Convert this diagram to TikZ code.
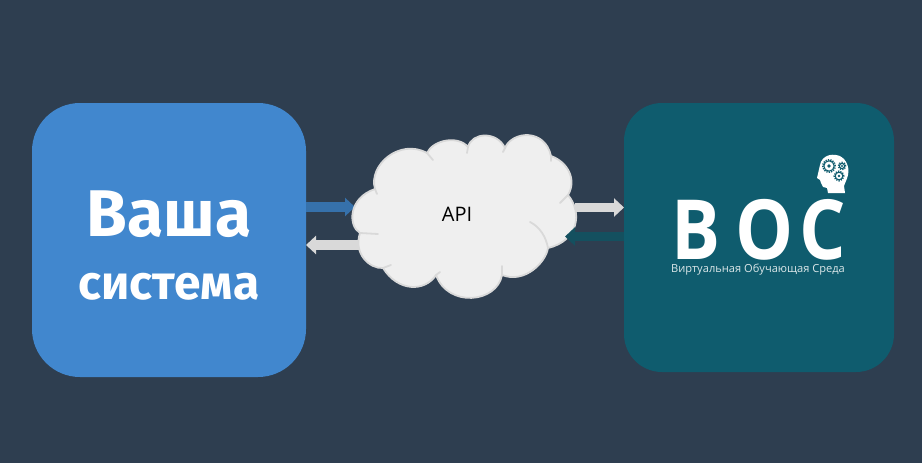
\documentclass[tikz,border=0pt]{standalone}
\usepackage{fontspec}
\setmainfont{Open Sans}
\newfontfamily\firafont{Fira Sans}
\usepackage{xcolor}
\usetikzlibrary{arrows.meta, positioning}
\definecolor{bgdark}{HTML}{2E3E50}
\definecolor{sysblue}{HTML}{4187CE}
\definecolor{arrowblue}{HTML}{3671AB}
\definecolor{bocteal}{HTML}{0F5C6E}
\definecolor{arrowteal}{HTML}{14505F}
\definecolor{cloudfill}{HTML}{EFEFEF}
\definecolor{cloudline}{HTML}{D9D9D9}
\tikzset{
  panel/.style={rectangle, outer sep=0pt, inner sep=0pt},
  bigtext/.style={text=white, inner sep=0pt, font=\firafont\bfseries\fontsize{66}{66}\selectfont},
  midtext/.style={text=white, inner sep=0pt, font=\firafont\bfseries\fontsize{48}{48}\selectfont},
  arrow/.style={-{Triangle[length=10pt,width=18pt]}, line width=9.5pt},
  cloudshape/.style={draw=cloudline, fill=cloudfill, line width=1.8pt, line join=round},
  cloudtail/.style={draw=cloudline, line width=1.8pt, line cap=round},
  gear/.style={draw=bocteal, fill=white, line width=1.1pt},
  gearteeth/.style={draw=bocteal, line width=1.5pt, dash pattern=on 1.2pt off 1.2pt},
}
\begin{document}
\begin{tikzpicture}[x=1pt, y=-1pt]
  \useasboundingbox[fill=bgdark] (0,0) rectangle (922,463);

  \node[panel, fill=sysblue, rounded corners=48pt, minimum width=274pt, minimum height=274pt] (sys) at (169,240) {};
  \node[panel, fill=bocteal, rounded corners=38pt, minimum width=270pt, minimum height=269pt] (boc) at (759,237.5) {};

  \node[bigtext] (vasha) at (169,214) {Ваша};
  \node[midtext, below=35pt of vasha] (sistema) {система};

  \node[text=white, inner sep=0pt, xscale=0.88, transform shape, text height=59.3pt, text depth=0pt, font=\bfseries\fontsize{83}{83}\selectfont] (bocname) at (759,230) {В\hspace{17pt}О\hspace{7pt}С};
  \node[text=white!85!bocteal, inner sep=0pt, font=\fontsize{11.1}{11.1}\selectfont] (boctag) at (758,270) {Виртуальная Обучающая Среда};

  % arrows under the cloud
  \coordinate (cloudW) at (355,207);
  \coordinate (cloudSW) at (362,245);
  \coordinate (cloudE) at (575,207.5);
  \coordinate (cloudSE) at (565,236.5);
  \draw[arrow, arrowblue] (sys.east |- cloudW) -- (cloudW);
  \draw[arrow, cloudline] (cloudSW) -- (sys.east |- cloudSW);
  \draw[arrow, cloudline] (cloudE) -- (boc.west |- cloudE);

  % cloud
  \draw[cloudshape] (360,233) .. controls (348,226) and (348,198) .. (375,189)
    .. controls (368,165) and (400,138) .. (427,153)
    .. controls (433,140) and (458,135) .. (468,147)
    .. controls (472,132) and (497,131) .. (505,148)
    .. controls (512,131) and (545,128) .. (551,156)
    .. controls (568,162) and (577,180) .. (568,195)
    .. controls (583,213) and (578,241) .. (548,248)
    .. controls (546,262) and (525,284) .. (502,275)
    .. controls (497,303) and (448,308) .. (436,275)
    .. controls (425,292) and (398,292) .. (383,268)
    .. controls (370,269) and (353,254) .. cycle;
  \draw[cloudtail] (360,233) -- (378,234);
  \draw[cloudtail] (375,189) -- (377,194);
  \draw[cloudtail] (427,153) -- (433,160);
  \draw[cloudtail] (468,147) -- (467,153);
  \draw[cloudtail] (505,148) -- (503,152);
  \draw[cloudtail] (551,156) -- (551,161);
  \draw[cloudtail] (568,195) -- (560,203);
  \draw[cloudtail] (530,222) .. controls (540,227) and (546,237) .. (548,248);
  \draw[cloudtail] (502,275) -- (502,266);
  \draw[cloudtail] (436,275) -- (440,272);
  \draw[cloudtail] (383,268) -- (391,265);
  \node[inner sep=0pt, font=\fontsize{20}{20}\selectfont] (api) at (457,214) {API};

  \draw[arrow, arrowteal] (boc.west |- cloudSE) -- (cloudSE);

  % head with gears
  \fill[white] (820,165) .. controls (822,155) and (832,154) .. (836,155)
    .. controls (845,156) and (850,166) .. (848,175)
    .. controls (847,180) and (845,182) .. (844,186) -- (845,193) -- (828,193) -- (827,188)
    -- (823,187) -- (821,183) -- (820,180) -- (817,178) -- cycle;
  \foreach \gx/\gy/\gr in {829/166/6.2, 842/166/3.6, 839/176/4.8} {
    \draw[gearteeth] (\gx,\gy) circle (\gr pt);
    \draw[gear] (\gx,\gy) circle (\gr pt - 1pt);
    \fill[bocteal] (\gx,\gy) circle (\gr pt * 0.3);
  }
\end{tikzpicture}
\end{document}
